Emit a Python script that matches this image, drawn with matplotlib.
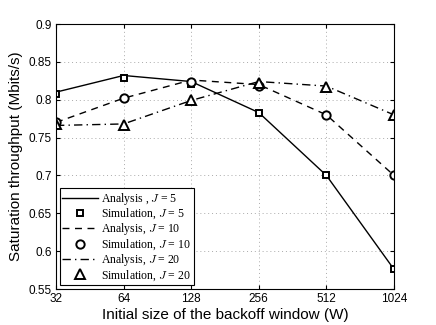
import numpy as np
import matplotlib.pyplot as plt

# Data
window = [32, 64, 128, 256, 512, 1024]
ana_j5 = [0.810, 0.832, 0.824, 0.783, 0.700, 0.576]
sim_j5 = [0.808, 0.829, 0.821, 0.782, 0.700, 0.577]
ana_j10 = [0.770, 0.802, 0.826, 0.820, 0.780, 0.700]
sim_j10 = [0.770, 0.802, 0.824, 0.818, 0.780, 0.700]
ana_j20 = [0.766, 0.768, 0.799, 0.824, 0.818, 0.780]
sim_j20 = [0.768, 0.767, 0.799, 0.822, 0.817, 0.780]
x_ticks = ["32", "64", "128", "256", "512", "1024"]

plt.rcParams['mathtext.fontset'] = 'cm'
plt.rcParams['font.family'] = ['Liberation Sans', 'DejaVu Sans']

fig = plt.figure(figsize=(4.36, 3.25), dpi=100)
ax = fig.add_axes([56 / 436, 1 - 289 / 325, (394 - 56) / 436, (289 - 24) / 325])

mk = dict(color='black', markerfacecolor='white', markeredgecolor='black',
          markeredgewidth=1.4, linestyle='none')

ax.plot(window, ana_j5, color='black', linestyle='-', linewidth=1.0,
        label="Analysis , $J$ = 5")
ax.plot(window, sim_j5, marker='s', markersize=5, label="Simulation, $J$ = 5", **mk)
ax.plot(window, ana_j10, color='black', linestyle=(0, (5, 4)), linewidth=1.0,
        label="Analysis, $J$ = 10")
ax.plot(window, sim_j10, marker='o', markersize=6, label="Simulation, $J$ = 10", **mk)
ax.plot(window, ana_j20, color='black', linestyle=(0, (6, 3, 1, 3)), linewidth=1.0,
        label="Analysis, $J$ = 20")
ax.plot(window, sim_j20, marker='^', markersize=6.5, label="Simulation, $J$ = 20", **mk)

ax.set_xscale('log', base=2)
ax.set_xlim(32, 1024)
ax.set_xticks(window)
ax.set_xticklabels(x_ticks)
ax.minorticks_off()
ax.set_ylim(0.55, 0.9)
ax.set_yticks([0.55, 0.6, 0.65, 0.7, 0.75, 0.8, 0.85, 0.9])
ax.set_yticklabels(["0.55", "0.6", "0.65", "0.7", "0.75", "0.8", "0.85", "0.9"])
ax.tick_params(direction='in', labelsize=8.5, length=3, top=True, right=True, pad=3)
ax.grid(True, linestyle=(0, (1, 3)), color='#aaaaaa', linewidth=0.7)

ax.set_xlabel("Initial size of the backoff window (W)", fontsize=11, labelpad=2)
ax.set_ylabel("Saturation throughput (Mbits/s)", fontsize=11, labelpad=4)

leg = ax.legend(loc='lower left', prop={'family': ['Liberation Serif', 'DejaVu Serif'], 'size': 8.5},
                frameon=True, fancybox=False,
                edgecolor='black', framealpha=1, borderpad=0.25, labelspacing=0.0,
                handlelength=3.0, handletextpad=0.3, borderaxespad=0.3)
leg.get_frame().set_linewidth(0.8)

fig.savefig("out.png", dpi=100)
